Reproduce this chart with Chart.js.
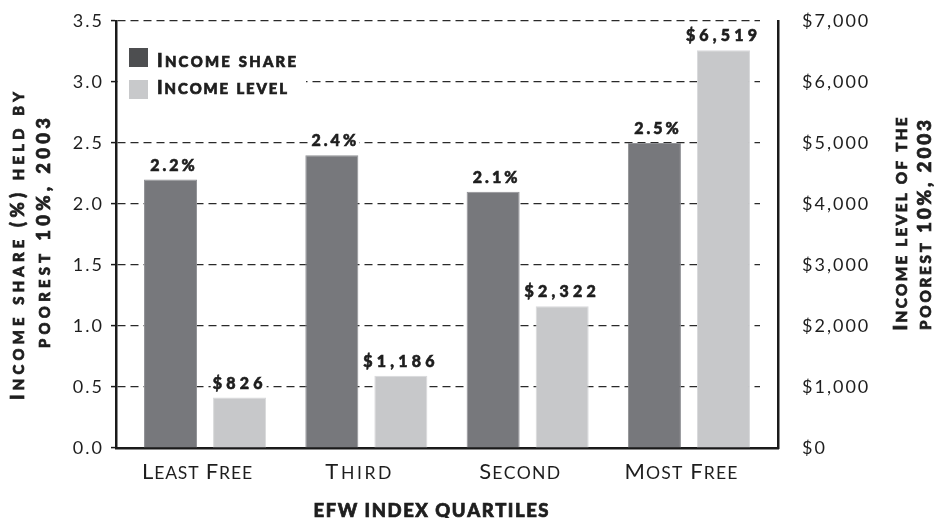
<!DOCTYPE html>
<html>
<head>
<meta charset="utf-8">
<script src="https://cdn.jsdelivr.net/npm/chart.js@4/dist/chart.umd.min.js"></script>
<style>
  html, body { margin: 0; padding: 0; background: #fff; }
  #wrap { width: 934px; height: 518px; }
</style>
</head>
<body>
<div id="wrap"><canvas id="chartIncome" width="934" height="518"></canvas></div>
<script>
const categories = ['Least Free', 'Third', 'Second', 'Most Free'];
const incomeShare = [2.2, 2.4, 2.1, 2.5];
const incomeLevel = [826, 1186, 2322, 6519];
const seriesNames = ['Income share', 'Income level'];
const leftTitle = ['Income share (%) held by', 'poorest 10%, 2003'];
const rightTitle = ['Income level of the', 'poorest 10%, 2003'];
const xTitle = 'EFW INDEX QUARTILES';

const FAMILY = 'Lato, "Noto Sans", sans-serif';
const INK = '#1e1e1e';
const darkGrey = '#77787c';
const lightGrey = '#c7c8ca';

const fmtMoney = v => '$' + Number(v).toLocaleString('en-US');

// small caps drawn letter by letter; lower case letters become smaller capitals
function drawSmallCaps(ctx, text, x, y, o) {
    const ratio = o.ratio || 0.8;
    const chars = Array.from(text).map(ch => {
        const small = ch !== ch.toUpperCase();
        const size = (small ? o.size * ratio : o.size).toFixed(2);
        const font = (o.weight || 'normal') + ' ' + size + 'px ' + FAMILY;
        ctx.font = font;
        const glyph = ch.toUpperCase();
        return { glyph, font, w: ctx.measureText(glyph).width };
    });
    const natural = chars.reduce((s, c) => s + c.w, 0);
    const gap = o.width ? (o.width - natural) / (chars.length - 1) : (o.spacing || 0);
    const total = natural + gap * (chars.length - 1);
    let cx = o.align === 'left' ? x : o.align === 'right' ? x - total : x - total / 2;
    ctx.textAlign = 'left';
    ctx.textBaseline = 'alphabetic';
    ctx.strokeStyle = ctx.fillStyle;
    ctx.lineWidth = o.stroke || 0;
    chars.forEach(c => {
        ctx.font = c.font;
        ctx.fillText(c.glyph, cx, y);
        if (o.stroke) ctx.strokeText(c.glyph, cx, y);
        cx += c.w + gap;
    });
}

function drawVertical(ctx, text, baseX, midY, o) {
    ctx.save();
    ctx.translate(baseX, midY);
    ctx.rotate(-Math.PI / 2);
    drawSmallCaps(ctx, text, 0, 0, o);
    ctx.restore();
}

const extrasPlugin = {
    id: 'extras',
    afterLayout(chart) {
        // groups sit a little inside the axes
        const s = chart.scales.x;
        s._startPixel += 8.4;
        s._endPixel -= 8.4;
        s._length = s._endPixel - s._startPixel;
    },
    beforeDraw(chart) {
        chart.ctx.letterSpacing = '2px';
    },
    beforeDatasetsDraw(chart) {
        // dashed grid stops short of the right axis
        const a = chart.chartArea;
        const ctx = chart.ctx;
        ctx.save();
        ctx.fillStyle = '#fff';
        ctx.fillRect(a.right - 18, a.top - 2, 16.5, a.bottom - a.top);
        ctx.restore();
    },
    afterDatasetsDraw(chart) {
        const ctx = chart.ctx;
        const area = chart.chartArea;
        ctx.save();

        // value labels on a white patch
        ctx.textAlign = 'center';
        ctx.textBaseline = 'alphabetic';
        ctx.font = '900 16px ' + FAMILY;
        ctx.lineWidth = 0.6;
        chart.data.datasets.forEach((ds, di) => {
            const meta = chart.getDatasetMeta(di);
            const sp = di === 0 ? 3 : 4.2;
            ctx.letterSpacing = sp + 'px';
            meta.data.forEach((bar, i) => {
                const v = ds.data[i];
                const txt = di === 0 ? v.toFixed(1) + '%' : fmtMoney(v);
                const tx = bar.x + sp / 2 + (di === 0 ? 2 : -2);
                const ty = bar.y - 9;
                const w = ctx.measureText(txt).width;
                ctx.fillStyle = '#fff';
                ctx.fillRect(tx - w / 2 - 2, ty - 15, w + 2, 18);
                ctx.fillStyle = INK;
                ctx.strokeStyle = INK;
                ctx.fillText(txt, tx, ty);
                ctx.strokeText(txt, tx, ty);
            });
        });
        ctx.letterSpacing = '0px';

        // legend, on a white patch over the grid
        ctx.fillStyle = '#fff';
        ctx.fillRect(area.left + 2, 38, 188, 66);
        const boxColors = ['#4d4e50', '#c8c9cb'];
        const legendWidths = [139, 130];
        seriesNames.forEach((name, i) => {
            ctx.fillStyle = boxColors[i];
            ctx.fillRect(129, 48 + i * 32, 19, 19);
            ctx.fillStyle = INK;
            drawSmallCaps(ctx, name, 157, 67 + i * 27, { size: 18.5, weight: '900', stroke: 0.7, align: 'left', width: legendWidths[i] });
        });

        // category labels
        ctx.fillStyle = INK;
        const x = chart.scales.x;
        const tickWidths = [110, 66, 81, 113];
        categories.forEach((c, i) => {
            drawSmallCaps(ctx, c, x.getPixelForValue(i) - 8, 479, { size: 22, weight: 'normal', width: tickWidths[i] });
        });

        // axis titles
        const heavy = { weight: '900', stroke: 0.7 };
        drawSmallCaps(ctx, xTitle, (area.left + area.right) / 2 - 16, 517, { ...heavy, size: 18.5, width: 235 });
        drawVertical(ctx, leftTitle[0], 23.5, 246, { ...heavy, size: 18.5, width: 308 });
        drawVertical(ctx, leftTitle[1], 50, 233, { ...heavy, size: 18.5, width: 230 });
        drawVertical(ctx, rightTitle[0], 907, 224, { ...heavy, size: 19, width: 213 });
        drawVertical(ctx, rightTitle[1], 930.5, 225, { ...heavy, size: 19, width: 210 });
        ctx.restore();
    }
};

new Chart(document.getElementById('chartIncome').getContext('2d'), {
    type: 'bar',
    data: {
        labels: categories,
        datasets: [
            { label: seriesNames[0], data: incomeShare, yAxisID: 'y', backgroundColor: darkGrey, borderColor: '#909195', borderWidth: 1 },
            { label: seriesNames[1], data: incomeLevel, yAxisID: 'y1', backgroundColor: lightGrey, borderColor: '#d8d9db', borderWidth: 1 }
        ]
    },
    options: {
        responsive: false,
        animation: false,
        layout: { padding: { top: 21, left: 0, right: 0, bottom: 0 } },
        datasets: { bar: { categoryPercentage: 0.856, barPercentage: 0.768 } },
        plugins: { legend: { display: false }, tooltip: { enabled: false } },
        scales: {
            x: {
                grid: { display: false },
                border: { display: true, color: '#1a1a1a', width: 2.5 },
                ticks: { display: false },
                afterFit(scale) { scale.height = 70; }
            },
            y: {
                position: 'left',
                min: 0, max: 3.5,
                ticks: { stepSize: 0.5, color: INK, padding: 7, font: { family: FAMILY, size: 18 }, callback: v => v.toFixed(1) },
                grid: { color: '#2a2a2a', lineWidth: 1.2, tickLength: 5, tickColor: '#1a1a1a', tickWidth: 1.5, tickBorderDash: [], drawTicks: true },
                border: { display: true, color: '#1a1a1a', width: 2.5, dash: [8, 5] },
                afterFit(scale) { scale.width = 116; }
            },
            y1: {
                position: 'right',
                min: 0, max: 7000,
                ticks: { stepSize: 1000, color: INK, padding: 4, font: { family: FAMILY, size: 18 }, callback: v => fmtMoney(v) },
                grid: { display: true, drawOnChartArea: false, drawTicks: true, tickLength: 20, tickColor: 'rgba(0,0,0,0)' },
                border: { display: true, color: '#1a1a1a', width: 2.5 },
                afterFit(scale) { scale.width = 156; }
            }
        }
    },
    plugins: [extrasPlugin]
});
</script>
</body>
</html>
